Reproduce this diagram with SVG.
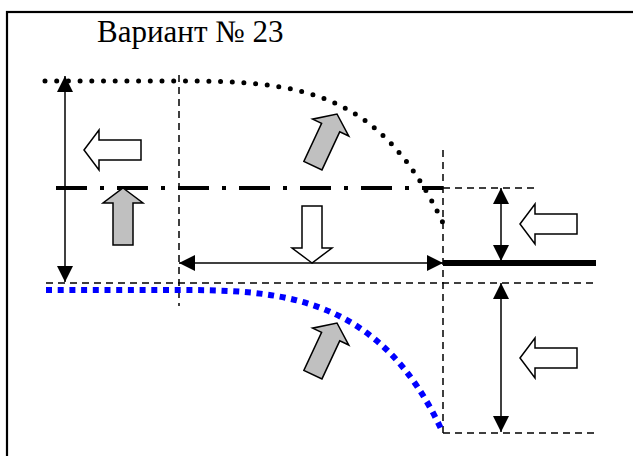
<svg xmlns="http://www.w3.org/2000/svg" width="633" height="456" viewBox="0 0 633 456">
<defs>
<style>
.dash{fill:none;stroke:#000;stroke-width:1.5;stroke-dasharray:7 5}
.thin{fill:none;stroke:#000;stroke-width:1.5}
.hollow{fill:#fff;stroke:#000;stroke-width:1.5;stroke-linejoin:miter}
.gray{fill:#c0c0c0;stroke:#000;stroke-width:1.5;stroke-linejoin:miter}
</style>
<marker id="ah" viewBox="0 0 16 16" refX="16" refY="8" markerWidth="16" markerHeight="16" markerUnits="userSpaceOnUse" orient="auto-start-reverse">
<path d="M0,0 L16,8 L0,16 Z" fill="#000"/>
</marker>
<polygon id="arrowUp" points="0,0 20,15 10,15 10,57 -10,57 -10,15 -20,15"/>
</defs>
<rect width="633" height="456" fill="#fff"/>
<rect id="frame" x="7" y="12" width="640" height="460" fill="none" stroke="#000" stroke-width="2.2"/>
<text id="title" x="97" y="42" font-family="Liberation Serif, serif" font-size="31" fill="#000">Вариант № 23</text>

<g id="guides">
<line class="dash" x1="179" y1="75" x2="179" y2="306"/>
<line class="dash" x1="443" y1="150" x2="443" y2="433"/>
<line class="dash" x1="46" y1="283" x2="596" y2="283"/>
<line class="dash" x1="443" y1="188" x2="537" y2="188"/>
<line class="dash" x1="443" y1="433" x2="596" y2="433"/>
</g>

<g id="center-line">
<line x1="52" y1="188" x2="443" y2="188" stroke="#000" stroke-width="4" stroke-dasharray="31 13 4 13" stroke-dashoffset="-4"/>
</g>

<g id="top-curve">
<path d="M45,81 L180,81 C300,81 380,90 443,223" fill="none" stroke="#000" stroke-width="5" stroke-linecap="round" stroke-dasharray="0 11.7"/>
</g>

<g id="bottom-curve">
<path d="M46,290 L180,290 C280,290 380,295 443,433" fill="none" stroke="#0000ff" stroke-width="6" stroke-dasharray="6 5.7"/>
</g>

<g id="thick-line">
<line x1="443" y1="263" x2="596" y2="263" stroke="#000" stroke-width="6"/>
</g>

<g id="connectors">
<line class="thin" x1="65" y1="76" x2="65" y2="282" marker-start="url(#ah)" marker-end="url(#ah)"/>
<line class="thin" x1="179" y1="263" x2="443" y2="263" marker-start="url(#ah)" marker-end="url(#ah)"/>
<line class="thin" x1="501" y1="188" x2="501" y2="261" marker-start="url(#ah)" marker-end="url(#ah)"/>
<line class="thin" x1="501" y1="283" x2="501" y2="432" marker-start="url(#ah)" marker-end="url(#ah)"/>
</g>

<g id="arrow-left-1"><use href="#arrowUp" class="hollow" transform="translate(84,150) rotate(-90)"/></g>
<g id="arrow-up-gray"><use href="#arrowUp" class="gray" transform="translate(123,188)"/></g>
<g id="arrow-down-center"><use href="#arrowUp" class="hollow" transform="translate(312,263) rotate(180)"/></g>
<g id="arrow-diag-top"><use href="#arrowUp" class="gray" transform="translate(337,114) rotate(25)"/></g>
<g id="arrow-diag-bottom"><use href="#arrowUp" class="gray" transform="translate(337,323) rotate(25)"/></g>
<g id="arrow-left-2"><use href="#arrowUp" class="hollow" transform="translate(520,224) rotate(-90)"/></g>
<g id="arrow-left-3"><use href="#arrowUp" class="hollow" transform="translate(520,358) rotate(-90)"/></g>
</svg>
